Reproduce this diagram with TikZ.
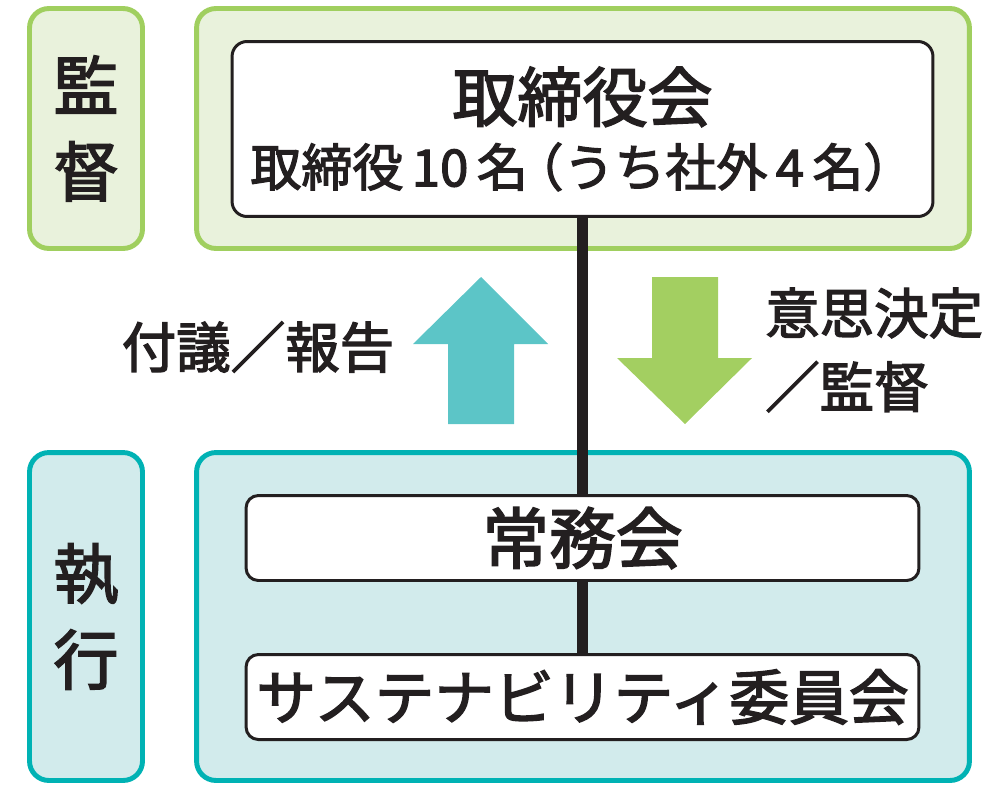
\documentclass[tikz,border=0pt]{standalone}
\usepackage{fontspec}
\setmainfont{Noto Sans CJK JP}[FakeBold=2.5]
\usetikzlibrary{positioning}
\definecolor{GreenLine}{HTML}{A0CF5F}
\definecolor{GreenFill}{HTML}{E9F2DC}
\definecolor{TealLine}{HTML}{00B2B4}
\definecolor{TealFill}{HTML}{D2EBEC}
\definecolor{UpTeal}{HTML}{5CC5C7}
\definecolor{DownGreen}{HTML}{A3CF61}
\definecolor{Tinta}{HTML}{231F20}
\tikzstyle{SupervisionFrame}=[rectangle, rounded corners=11pt, draw=GreenLine, fill=GreenFill, line width=2.8pt, text=Tinta, align=center]
\tikzstyle{ExecutionFrame}=[rectangle, rounded corners=11pt, draw=TealLine, fill=TealFill, line width=2.8pt, text=Tinta, align=center]
\tikzstyle{OrganBox}=[rectangle, rounded corners=7pt, draw=Tinta, fill=white, line width=1.7pt, text=Tinta, align=center, minimum width=13.46cm, minimum height=1.7cm]
\tikzstyle{SideText}=[text=Tinta, font=\fontsize{31pt}{42pt}\selectfont]
\tikzstyle{Conector}=[draw=Tinta, line width=5.8pt]
\tikzstyle{UpArrow}=[fill=UpTeal]
\tikzstyle{DownArrow}=[fill=DownGreen]

\begin{document}
\begin{tikzpicture}[x=0.02cm, y=-0.02cm]
			\useasboundingbox (0,0) rectangle (996,798);

			%Marcos
			\node[SupervisionFrame, minimum width=2.26cm, minimum height=4.8cm, font=\fontsize{37pt}{49pt}\selectfont]	(supervision_tag)	at (86,128.5)	{監\\督};
			\node[SupervisionFrame, minimum width=15.46cm, minimum height=4.8cm]	(supervision_area)	at (583,128.5)	{};
			\node[ExecutionFrame, minimum width=2.26cm, minimum height=6.56cm, font=\fontsize{37pt}{49pt}\selectfont]	(execution_tag)	at (86,616.5)	{執\\行};
			\node[ExecutionFrame, minimum width=15.46cm, minimum height=6.56cm]	(execution_area)	at (583,616.5)	{};

			%Organos
			\node[OrganBox, rounded corners=8.5pt, minimum width=14.02cm, minimum height=3.5cm]	(board)	at (582.5,129)
				{{\fontsize{37pt}{40pt}\selectfont 取締役会}\\[8pt]{\fontsize{29pt}{32pt}\selectfont 取締役\,10\,名\kern-0.3em（うち社外\,4\,名）}};
			\node[OrganBox, font=\fontsize{38pt}{40pt}\selectfont]	(jomukai)	at (582.5,538)	{常務会};
			\node[OrganBox, font=\fontsize{34pt}{36pt}\selectfont]	(sustainability)	at (582.5,697)	{サステナビリティ委員会};

			%Lineas
			\draw[Conector] (board) -- (jomukai);
			\draw[Conector] (jomukai) -- (sustainability);

			%Flechas
			\fill[UpArrow] (481,277) -- (548,344) -- (514,344) -- (514,424) -- (448,424) -- (448,344) -- (413,344) -- cycle;
			\fill[DownArrow] (652,277) -- (718,277) -- (718,358) -- (752,358) -- (685,424) -- (617,358) -- (652,358) -- cycle;

			%Textos
			\node[SideText]	(report_label)	at (258,347)	{付議／報告};
			\node[SideText, anchor=west, align=left]	(decision_label)	at (759,350)	{意思決定\\／監督};

		\end{tikzpicture}
\end{document}
